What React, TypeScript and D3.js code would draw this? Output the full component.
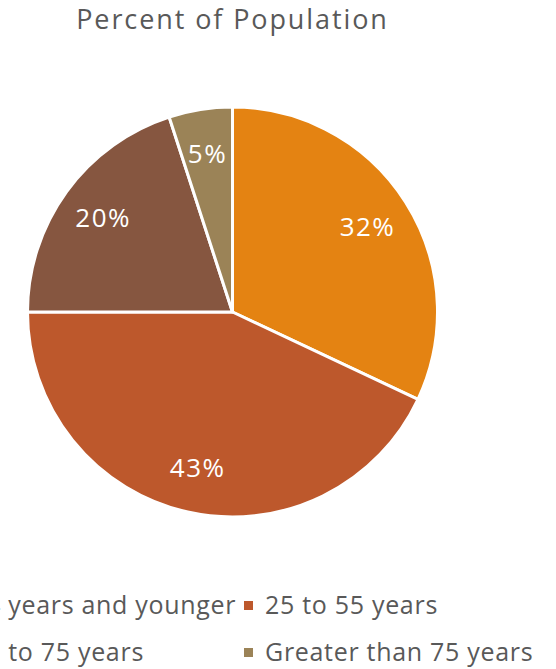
import React from "react";
import * as d3 from "d3";

const categories = ["24 years and younger", "25 to 55 years", "56 to 75 years", "Greater than 75 years"];
const values = [32, 43, 20, 5];
const colors = ["#E48312", "#BD582C", "#865640", "#9B8357"];
const title = "Percent of Population";

const W = 556;
const H = 669;
const FONT = "'Century Gothic', 'Open Sans', sans-serif";

export default function App() {
  const cx = 232.5;
  const cy = 312;
  const R = 205;
  const pie = d3.pie<number>().sort(null).value((d) => d);
  const arcs = pie(values);
  const arcGen = d3.arc<d3.PieArcDatum<number>>().innerRadius(0).outerRadius(R);
  const labelArc = d3.arc<d3.PieArcDatum<number>>().innerRadius(R * 0.78).outerRadius(R * 0.78);
  const total = d3.sum(values);

  // legend layout: 2 columns, 2 rows
  const colX = [-50, 244];
  const rowY = [614, 661];
  const legendFont = 25;

  return (
    <svg width={W} height={H} style={{ position: "absolute", left: 0, top: 0, background: "#fff" }} fontFamily={FONT}>
      <text x={cx} y={29} textAnchor="middle" fontSize={27} letterSpacing={1.9} fill="#595959">{title}</text>
      <g transform={`translate(${cx},${cy})`}>
        {arcs.map((a, i) => (
          <path key={i} d={arcGen(a) || ""} fill={colors[i]} stroke="#fff" strokeWidth={3} strokeLinejoin="round" />
        ))}
        {arcs.map((a, i) => {
          const [lx, ly] = labelArc.centroid(a);
          return (
            <text key={"l" + i} x={lx} y={ly} dy="0.36em" textAnchor="middle" fontSize={26} letterSpacing={1.5} fill="#fff">
              {`${Math.round((values[i] / total) * 100)}%`}
            </text>
          );
        })}
      </g>
      {categories.map((c, i) => {
        const col = i % 2;
        const row = Math.floor(i / 2);
        const x = colX[col];
        const y = rowY[row];
        return (
          <g key={"lg" + i}>
            <rect x={x} y={y - 13} width={9} height={9} fill={colors[i]} />
            <text x={x + 21} y={y} fontSize={legendFont} letterSpacing={0.7} fill="#595959">{c}</text>
          </g>
        );
      })}
    </svg>
  );
}
